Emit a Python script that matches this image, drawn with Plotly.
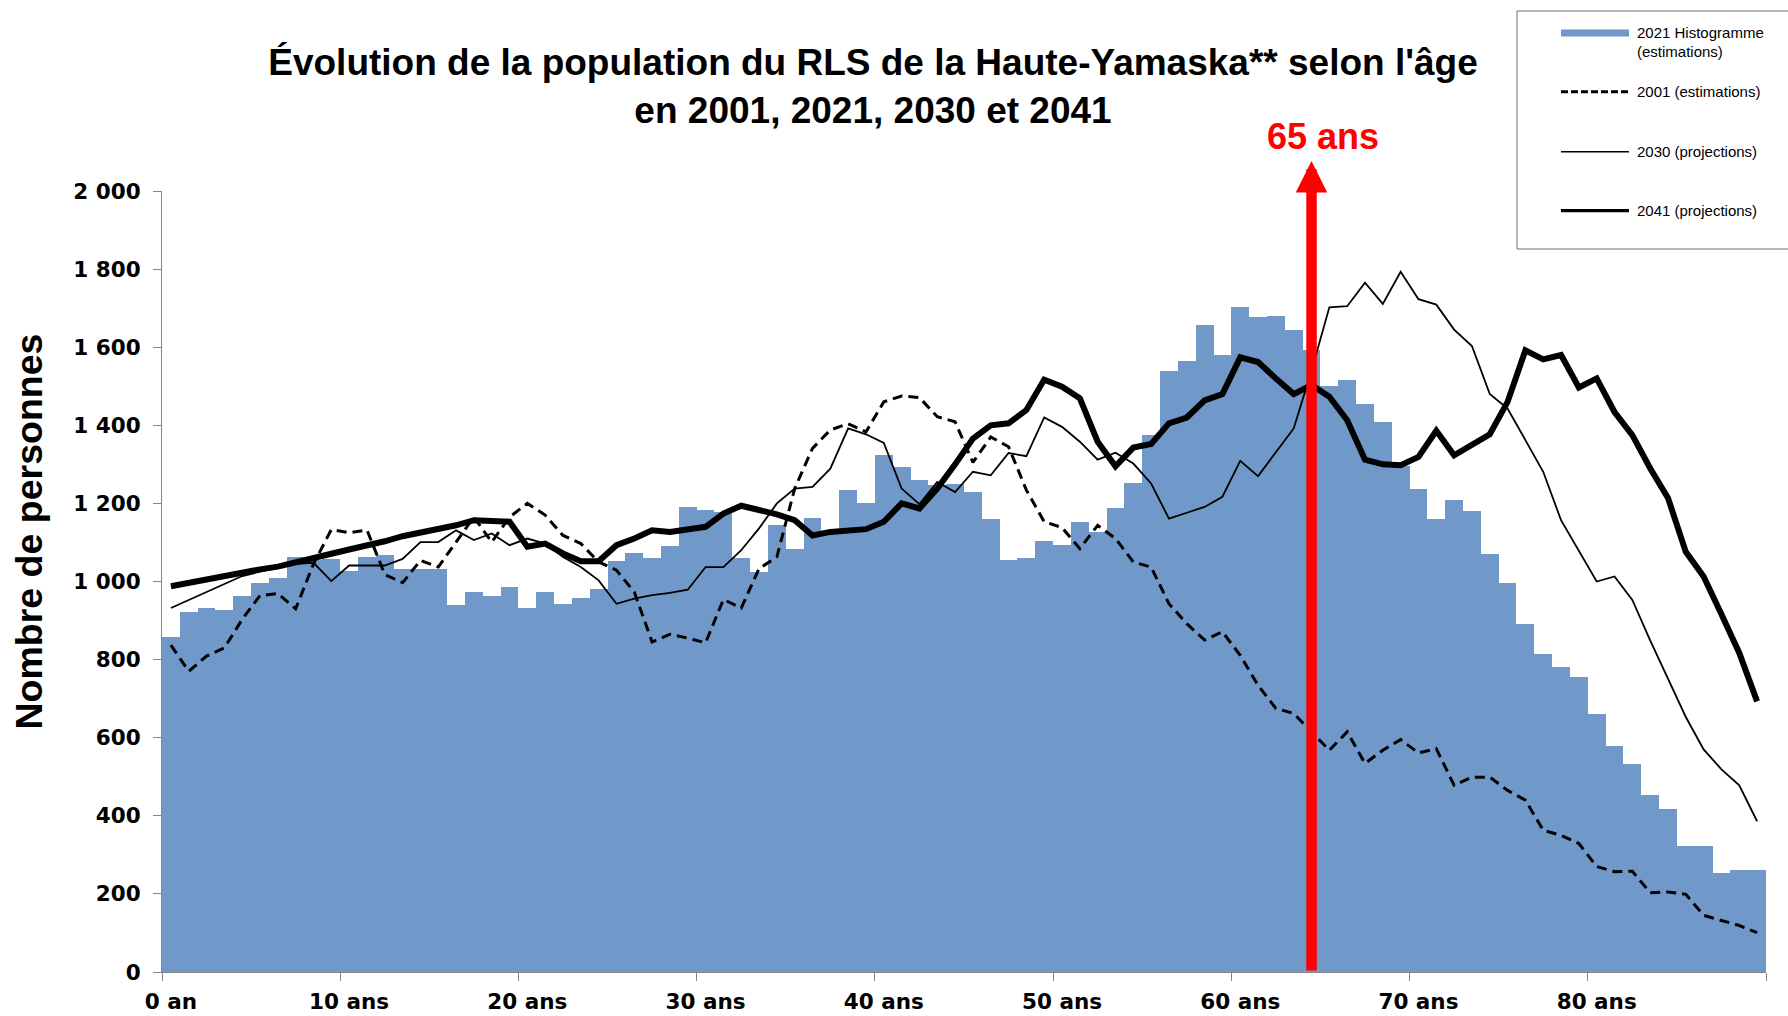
import plotly.graph_objects as go

# ---------------- data ----------------
ages = list(range(90))

pop_2021 = [857, 921, 931, 926, 963, 997, 1009, 1063, 1055, 1058,
            1026, 1062, 1069, 1031, 1033, 1033, 941, 972, 964, 986,
            931, 973, 943, 959, 980, 1053, 1072, 1059, 1091, 1190,
            1183, 1178, 1061, 1025, 1144, 1083, 1162, 1125, 1235, 1201,
            1323, 1294, 1259, 1247, 1250, 1229, 1161, 1056, 1061, 1104,
            1093, 1153, 1127, 1189, 1253, 1375, 1539, 1565, 1657, 1580,
            1702, 1678, 1680, 1644, 1594, 1501, 1517, 1455, 1408, 1295,
            1238, 1159, 1208, 1180, 1070, 996, 892, 814, 780, 756,
            660, 578, 533, 452, 417, 323, 323, 254, 262, 261]

pop_2001 = [837, 770, 809, 830, 903, 964, 969, 930, 1045, 1133,
            1125, 1132, 1018, 997, 1054, 1037, 1101, 1165, 1101, 1165,
            1200, 1170, 1118, 1097, 1050, 1029, 973, 845, 865, 855,
            843, 954, 932, 1033, 1063, 1238, 1341, 1388, 1404, 1383,
            1460, 1475, 1471, 1422, 1409, 1305, 1370, 1345, 1234, 1153,
            1138, 1084, 1144, 1110, 1050, 1037, 943, 892, 850, 871,
            811, 734, 675, 662, 615, 568, 615, 534, 568, 595,
            561, 572, 478, 499, 499, 465, 440, 363, 350, 329,
            270, 257, 258, 203, 205, 199, 145, 132, 119, 101]

pop_2030 = [932, 952, 973, 993, 1014, 1025, 1035, 1045, 1048, 1001,
            1041, 1041, 1041, 1058, 1101, 1101, 1131, 1106, 1123, 1093,
            1110, 1097, 1063, 1037, 1003, 943, 956, 965, 971, 979,
            1037, 1037, 1080, 1136, 1200, 1238, 1242, 1289, 1392, 1377,
            1355, 1238, 1198, 1255, 1229, 1281, 1272, 1329, 1321, 1420,
            1396, 1358, 1312, 1330, 1302, 1251, 1161, 1176, 1191, 1217,
            1309, 1270, 1332, 1392, 1540, 1702, 1705, 1765, 1711, 1793,
            1723, 1709, 1645, 1603, 1480, 1443, 1362, 1281, 1157, 1080,
            1000, 1013, 953, 849, 751, 653, 570, 519, 478, 386]

pop_2041 = [988, 997, 1005, 1014, 1022, 1031, 1038, 1048, 1058, 1071,
            1082, 1092, 1103, 1116, 1125, 1136, 1144, 1157, 1155, 1153,
            1089, 1097, 1072, 1052, 1052, 1093, 1110, 1131, 1127, 1135,
            1140, 1174, 1194, 1183, 1172, 1157, 1118, 1127, 1129, 1134,
            1153, 1200, 1187, 1238, 1300, 1366, 1400, 1405, 1439, 1517,
            1499, 1469, 1358, 1295, 1343, 1352, 1405, 1420, 1464, 1480,
            1574, 1562, 1520, 1480, 1503, 1473, 1413, 1312, 1300, 1298,
            1319, 1386, 1323, 1349, 1377, 1460, 1592, 1569, 1580, 1497,
            1520, 1434, 1375, 1290, 1214, 1076, 1013, 916, 817, 693]

x_tick_vals = [0, 10, 20, 30, 40, 50, 60, 70, 80]
x_tick_text = ["0 an", "10 ans", "20 ans", "30 ans", "40 ans",
               "50 ans", "60 ans", "70 ans", "80 ans"]
x_minor_ticks = [-0.5, 9.5, 19.5, 29.5, 39.5, 49.5, 59.5, 69.5, 79.5, 89.5]
marker_age = 64

series_names = ["2021 Histogramme<br>(estimations)", "2001 (estimations)",
                "2030 (projections)", "2041 (projections)"]

# ---------------- layout helpers ----------------
W, H = 1788, 1016
ML, MT = 162, 191
PLOT_RIGHT, PLOT_BOTTOM = 1766, 972
MR, MB = W - PLOT_RIGHT, H - PLOT_BOTTOM
PW = W - ML - MR
PH = H - MT - MB


def pxx(x):
    """page pixel x -> paper coordinate"""
    return (x - ML) / PW


def pxy(y):
    """page pixel y -> paper coordinate"""
    return (PLOT_BOTTOM - y) / PH


BAR_COLOR = "#7098C9"
AXIS_COLOR = "#868686"
FONT = "Liberation Sans, Arial, sans-serif"
TICK_FONT = "DejaVu Sans, Verdana, sans-serif"

fig = go.Figure()

fig.add_trace(go.Bar(x=ages, y=pop_2021, width=1, name=series_names[0],
                     marker=dict(color=BAR_COLOR, line=dict(width=0)),
                     showlegend=False))
fig.add_trace(go.Scatter(x=ages, y=pop_2001, mode="lines", name=series_names[1],
                         line=dict(color="black", width=3, dash="10px,6px"),
                         showlegend=False))
fig.add_trace(go.Scatter(x=ages, y=pop_2030, mode="lines", name=series_names[2],
                         line=dict(color="black", width=1.8),
                         showlegend=False))
fig.add_trace(go.Scatter(x=ages, y=pop_2041, mode="lines", name=series_names[3],
                         line=dict(color="black", width=6),
                         showlegend=False))

shapes = []
annotations = []

# legend box (manual)
shapes.append(dict(type="rect", xref="paper", yref="paper",
                   x0=pxx(1517), x1=pxx(1810), y0=pxy(249), y1=pxy(11),
                   line=dict(color="#6e6e6e", width=1), fillcolor="white",
                   layer="above"))
shapes.append(dict(type="rect", xref="paper", yref="paper",
                   x0=pxx(1561), x1=pxx(1629), y0=pxy(36.5), y1=pxy(29.5),
                   line=dict(width=0), fillcolor=BAR_COLOR, layer="above"))
legend_lines = [(91.7, 3, "7px,3px"), (151.7, 1.5, "solid"), (210.7, 3.2, "solid")]
for yy, wdt, dsh in legend_lines:
    shapes.append(dict(type="line", xref="paper", yref="paper",
                       x0=pxx(1561), x1=pxx(1629), y0=pxy(yy), y1=pxy(yy),
                       line=dict(color="black", width=wdt, dash=dsh), layer="above"))
legend_texts = [(33, "2021 Histogramme"), (52, "(estimations)"),
                (91.7, series_names[1]), (151.7, series_names[2]),
                (210.7, series_names[3])]
for yy, txt in legend_texts:
    annotations.append(dict(xref="paper", yref="paper", x=pxx(1635), y=pxy(yy),
                            xanchor="left", yanchor="middle", text=txt,
                            showarrow=False,
                            font=dict(family=FONT, size=15, color="black")))

# y axis title
annotations.append(dict(xref="paper", yref="paper", x=pxx(28.5), y=pxy(532),
                        xanchor="center", yanchor="middle", textangle=-90,
                        text="Nombre de personnes", showarrow=False,
                        font=dict(family=FONT, size=37.5, color="black", weight="bold")))

# 65 ans arrow (tail on the x axis, head above the plot area)
annotations.append(dict(xref="x", yref="paper", x=marker_age, y=pxy(161),
                        axref="pixel", ayref="pixel", ax=0, ay=PLOT_BOTTOM - 161,
                        text="", showarrow=True, arrowhead=2, arrowsize=0.6,
                        arrowwidth=10.5, arrowcolor="#FF0000", standoff=0,
                        startstandoff=0))
annotations.append(dict(xref="paper", yref="paper", x=pxx(1323), y=pxy(136),
                        xanchor="center", yanchor="middle", text="65 ans",
                        showarrow=False,
                        font=dict(family=FONT, size=36, color="#FF0000", weight="bold")))

fig.update_layout(
    width=W, height=H,
    margin=dict(l=ML, r=MR, t=MT, b=MB, pad=0, autoexpand=False),
    paper_bgcolor="white", plot_bgcolor="white",
    separators=", ",
    bargap=0,
    showlegend=False,
    title=dict(text="Évolution de la population du RLS de la Haute-Yamaska** selon l'âge"
                    "<br>en 2001, 2021, 2030 et 2041",
               x=873 / W, xanchor="center", y=1 - 75 / H,
               yanchor="middle",
               font=dict(family=FONT, size=37, color="black", weight="bold")),
    xaxis=dict(range=[-0.5, 89.5], tickmode="array", tickvals=x_tick_vals,
               ticktext=x_tick_text, ticks="", showgrid=False, zeroline=False,
               showline=True, linecolor=AXIS_COLOR, linewidth=1,
               ticklabelstandoff=10, automargin=False,
               tickfont=dict(family=TICK_FONT, size=21.5, color="black", weight="bold"),
               minor=dict(tickmode="array", tickvals=x_minor_ticks, ticks="outside",
                          ticklen=8, tickcolor=AXIS_COLOR, tickwidth=1, showgrid=False)),
    yaxis=dict(range=[0, 2000], dtick=200, tick0=0, tickformat=",d",
               ticks="outside", ticklen=8, tickcolor=AXIS_COLOR, tickwidth=1,
               showgrid=False, zeroline=False, showline=True, automargin=False,
               linecolor=AXIS_COLOR, linewidth=1, ticklabelstandoff=8,
               tickfont=dict(family=TICK_FONT, size=21.5, color="black", weight="bold")),
    shapes=shapes,
    annotations=annotations,
)

fig.write_html("out.html",
               config={"displayModeBar": False},
               post_script="document.body.style.margin='0';"
                           "document.body.style.overflow='hidden';")
